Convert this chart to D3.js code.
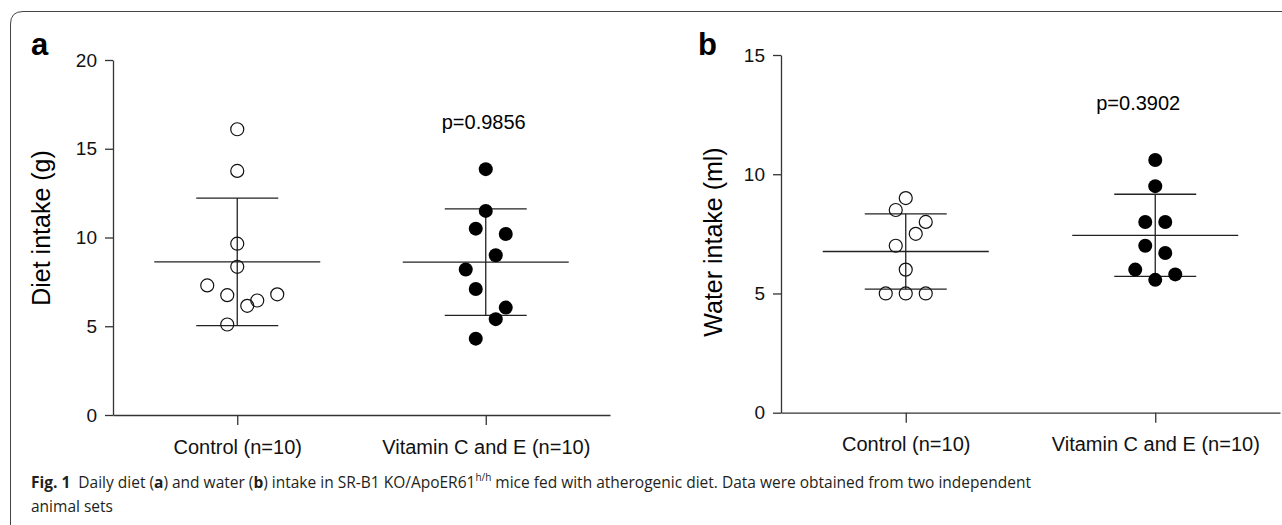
<!DOCTYPE html>
<html>
<head>
<meta charset="utf-8">
<script src="https://cdn.jsdelivr.net/npm/d3@7"></script>
<style>
  body { margin: 0; background: #fff; }
  svg { display: block; }
  .axis text { font-family: "Liberation Sans", Arial, sans-serif; fill: #111; }
  .axis path, .axis line { stroke: #333; stroke-width: 1.3; }
</style>
</head>
<body>
<div id="chart"></div>
<script>
// groups on the x axis
var groups = ["Control (n=10)", "Vitamin C and E (n=10)"];

// panel a: diet intake (g)
var dietCtrl = [16.1, 13.75, 9.65, 8.35, 7.3, 6.75, 6.15, 6.45, 6.8, 5.1];
var dietCtrlSlot = [0, 0, 0, 0, -3, -1, 1, 2, 4, -1];
var dietVit = [13.85, 11.5, 10.5, 10.2, 9.0, 8.2, 7.1, 6.05, 5.4, 4.3];
var dietVitSlot = [0, 0, -1, 2, 1, -2, -1, 2, 1, -1];
var dietMean = [8.63, 8.61];
var dietSd = [3.59, 3.0];
var dietTicks = [0, 5, 10, 15, 20];

// panel b: water intake (ml)
var waterCtrl = [9.0, 8.5, 8.0, 7.5, 7.0, 6.0, 5.0, 5.0, 5.0];
var waterCtrlSlot = [0, -1, 2, 1, -1, 0, -2, 0, 2];
var waterVit = [10.6, 9.5, 8.0, 8.0, 7.0, 6.7, 6.0, 5.8, 5.57];
var waterVitSlot = [0, 0, -1, 1, -1, 1, -2, 2, 0];
var waterMean = [6.76, 7.44];
var waterSd = [1.58, 1.72];
var waterTicks = [0, 5, 10, 15];

var pValues = ["p=0.9856", "p=0.3902"];

var W = 1282, H = 525;
var font = '"Liberation Sans", Arial, sans-serif';

var svg = d3.select("#chart").append("svg")
            .attr("width", W)
            .attr("height", H);

// frame with rounded top-left corner
svg.append("path")
   .attr("d", "M10.5," + (H + 5) + " L10.5,24 Q10.5,11.5 23,11.5 L" + (W + 5) + ",11.5")
   .attr("fill", "none")
   .attr("stroke", "#444")
   .attr("stroke-width", 1);

function panel(opt) {
    var x = d3.scalePoint()
              .domain(groups)
              .range([opt.x0, opt.x1])
              .padding(0.5);
    var y = d3.scaleLinear()
              .domain([0, d3.max(opt.ticks)])
              .range([opt.y0, opt.y1]);

    var g = svg.append("g");

    g.append("g")
     .attr("class", "axis")
     .attr("transform", "translate(" + opt.x0 + ",0)")
     .call(d3.axisLeft(y).tickValues(opt.ticks).tickSize(8).tickPadding(8).tickSizeOuter(0))
     .selectAll("text").style("font-size", "19px");

    g.append("g")
     .attr("class", "axis")
     .attr("transform", "translate(0," + opt.y0 + ")")
     .call(d3.axisBottom(x).tickSize(10).tickPadding(opt.catPad).tickSizeOuter(0))
     .selectAll("text").style("font-size", "20px");

    // axis title
    g.append("text")
     .attr("transform", "translate(" + opt.titleX + "," + opt.titleY + ") rotate(-90)")
     .attr("text-anchor", "middle")
     .style("font-family", font)
     .style("font-size", "25px")
     .text(opt.title);

    // panel letter
    g.append("text")
     .attr("x", opt.letterX)
     .attr("y", 55)
     .style("font-family", font)
     .style("font-size", "31px")
     .style("font-weight", "bold")
     .text(opt.letter);

    // p value
    g.append("text")
     .attr("x", x(groups[1]) + opt.pDx)
     .attr("y", opt.pY)
     .attr("text-anchor", "middle")
     .style("font-family", font)
     .style("font-size", "20px")
     .text(opt.p);

    // mean +/- SD
    groups.forEach(function(grp, i) {
        var cx = x(grp);
        var m = opt.mean[i], s = opt.sd[i];
        var eb = g.append("g").attr("stroke", "#222").attr("stroke-width", 1.3);
        eb.append("line").attr("x1", cx - 83).attr("x2", cx + 83).attr("y1", y(m)).attr("y2", y(m));
        eb.append("line").attr("x1", cx).attr("x2", cx).attr("y1", y(m + s)).attr("y2", y(m - s));
        eb.append("line").attr("x1", cx - 41).attr("x2", cx + 41).attr("y1", y(m + s)).attr("y2", y(m + s));
        eb.append("line").attr("x1", cx - 41).attr("x2", cx + 41).attr("y1", y(m - s)).attr("y2", y(m - s));
    });

    // control points: open circles
    g.selectAll(".ctrl")
     .data(opt.ctrl)
     .enter()
     .append("circle")
     .attr("cx", function(d, i) { return x(groups[0]) + opt.ctrlSlot[i] * 10; })
     .attr("cy", function(d) { return y(d); })
     .attr("r", 6.5)
     .attr("fill", "none")
     .attr("stroke", "#111")
     .attr("stroke-width", 1.2);

    // treated points: filled dots
    g.selectAll(".vit")
     .data(opt.vit)
     .enter()
     .append("circle")
     .attr("cx", function(d, i) { return x(groups[1]) + opt.vitSlot[i] * 10; })
     .attr("cy", function(d) { return y(d); })
     .attr("r", 7)
     .attr("fill", "#000");
}

panel({
    x0: 113, x1: 610, y0: 415, y1: 60,
    ticks: dietTicks, catPad: 15,
    ctrl: dietCtrl, ctrlSlot: dietCtrlSlot,
    vit: dietVit, vitSlot: dietVitSlot,
    mean: dietMean, sd: dietSd,
    title: "Diet intake (g)", titleX: 50, titleY: 228,
    letter: "a", letterX: 31,
    p: pValues[0], pDx: -2, pY: 129
});

panel({
    x0: 781, x1: 1280, y0: 412.7, y1: 55,
    ticks: waterTicks, catPad: 14,
    ctrl: waterCtrl, ctrlSlot: waterCtrlSlot,
    vit: waterVit, vitSlot: waterVitSlot,
    mean: waterMean, sd: waterSd,
    title: "Water intake (ml)", titleX: 722, titleY: 242,
    letter: "b", letterX: 698,
    p: pValues[1], pDx: -17, pY: 110
});

// caption
var cap = svg.append("text")
             .attr("x", 31)
             .attr("y", 488)
             .style("font-family", '"Open Sans", sans-serif')
             .style("font-size", "15.5px")
             .style("fill", "#231f20");
cap.append("tspan").style("font-weight", "bold").text("Fig. 1");
cap.append("tspan").attr("dx", 8).text("Daily diet (");
cap.append("tspan").style("font-weight", "bold").text("a");
cap.append("tspan").text(") and water (");
cap.append("tspan").style("font-weight", "bold").text("b");
cap.append("tspan").text(") intake in SR-B1 KO/ApoER61");
cap.append("tspan").attr("dy", -7).style("font-size", "10px").text("h/h");
cap.append("tspan").attr("dy", 7).text(" mice fed with atherogenic diet. Data were obtained from two independent");

svg.append("text")
   .attr("x", 31)
   .attr("y", 512)
   .style("font-family", '"Open Sans", sans-serif')
   .style("font-size", "15.5px")
   .style("fill", "#231f20")
   .text("animal sets");
</script>
</body>
</html>
